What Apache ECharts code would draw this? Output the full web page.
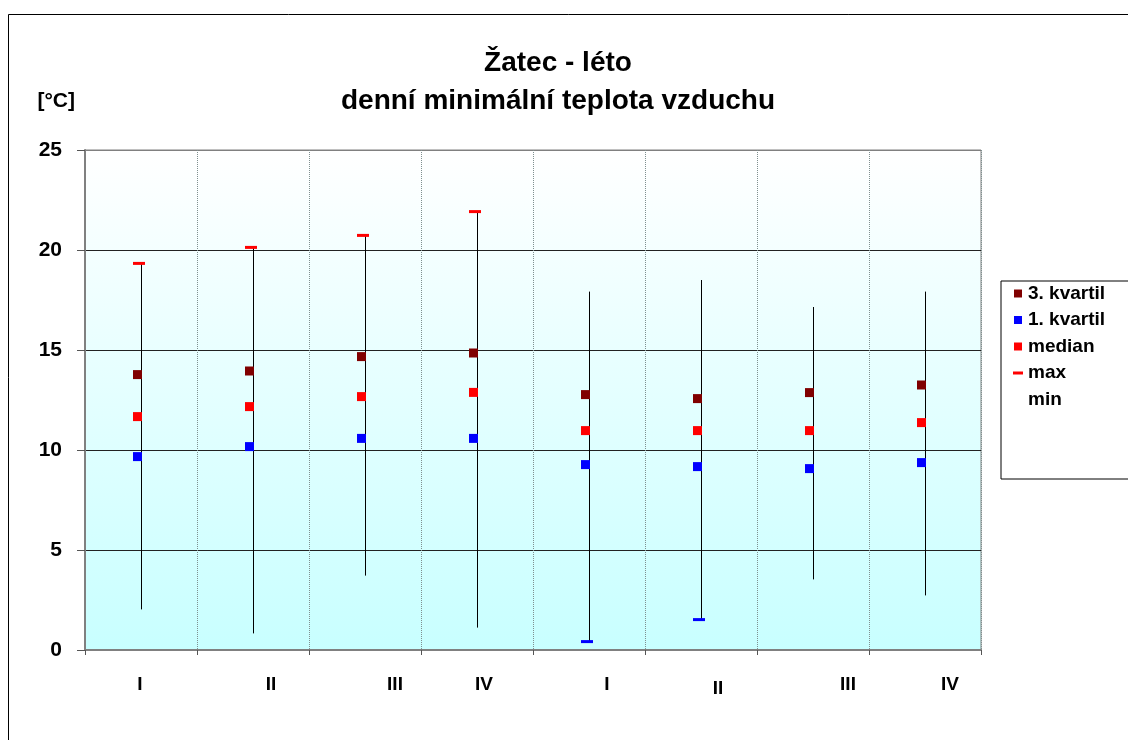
<!DOCTYPE html>
<html>
<head>
<meta charset="utf-8">
<title>Žatec - léto</title>
<script src="https://cdn.jsdelivr.net/npm/echarts@6/dist/echarts.min.js"></script>
<style>
  html, body { margin: 0; padding: 0; background: #ffffff; }
  #chart { width: 1128px; height: 740px; }
</style>
</head>
<body>
<div id="chart"></div>
<script>
// Seasonal quarters (two summers), daily minimum air temperature statistics [°C]
const categories = ['I', 'II', 'III', 'IV', 'I', 'II', 'III', 'IV'];
const q3Values = [13.77, 13.95, 14.67, 14.85, 12.77, 12.57, 12.87, 13.25];
const q1Values = [9.67, 10.17, 10.58, 10.58, 9.27, 9.17, 9.07, 9.37];
const medianValues = [11.67, 12.17, 12.67, 12.88, 10.97, 10.97, 10.97, 11.37];
const maxValues = [19.33, 20.13, 20.73, 21.92, 17.92, 18.5, 17.15, 17.92];
const minValues = [2.03, 0.83, 3.72, 1.12, 0.42, 1.52, 3.53, 2.73];
const yTicks = [0, 5, 10, 15, 20, 25];

// which points carry a visible dash marker
const maxDashShown = [true, true, true, true, false, false, false, false];
const minDashShown = [false, false, false, false, true, true, false, false];

// horizontal / vertical nudges of the category labels (px)
const labelShift = [-1, 18, 30, 7, 18, 17, 35, 25];
const labelDrop = [0, 0, 0, 0, 0, 4, 0, 0];

const FONT = 'Liberation Sans, Arial, sans-serif';

const rich = {};
labelShift.forEach((s, i) => {
  rich['s' + i] = {
    fontFamily: FONT, fontWeight: 'bold', fontSize: 19, color: '#000',
    padding: [labelDrop[i], s < 0 ? -2 * s : 0, 0, s > 0 ? 2 * s : 0]
  };
});

const chart = echarts.init(document.getElementById('chart'), null, { renderer: 'canvas' });

const squareIcon = 'path://M1,1h8v8h-8zM0,0M10,10';
const dashIcon = 'path://M0,0M10,10M0,3.5h10v3h-10z';

const option = {
  animation: false,
  backgroundColor: '#ffffff',
  title: {
    text: 'Žatec - léto\ndenní minimální teplota vzduchu',
    left: 553,
    top: 39,
    textAlign: 'center',
    textStyle: {
      fontFamily: FONT, fontWeight: 'bold', fontSize: 28, color: '#000', lineHeight: 38
    }
  },
  legend: {
    orient: 'vertical',
    left: 1001,
    top: 281,
    padding: [3, 40, 70, 12],
    itemGap: 7.5,
    itemWidth: 10,
    itemHeight: 10,
    borderColor: '#000',
    borderWidth: 1,
    backgroundColor: '#ffffff',
    textStyle: { fontFamily: FONT, fontWeight: 'bold', fontSize: 19, color: '#000', lineHeight: 19 },
    data: [
      { name: '3. kvartil', icon: squareIcon },
      { name: '1. kvartil', icon: squareIcon },
      { name: 'median', icon: squareIcon },
      { name: 'max', icon: dashIcon },
      { name: 'min', icon: 'none' }
    ]
  },
  grid: {
    left: 85,
    right: 147,
    top: 150,
    bottom: 90,
    show: true,
    borderColor: '#808080',
    borderWidth: 1,
    backgroundColor: new echarts.graphic.LinearGradient(0, 0, 0, 1, [
      { offset: 0, color: '#ffffff' },
      { offset: 1, color: '#c8ffff' }
    ])
  },
  xAxis: {
    type: 'category',
    data: categories,
    boundaryGap: true,
    axisLine: { lineStyle: { color: '#808080', width: 2 } },
    axisTick: { show: true, length: 5, lineStyle: { color: '#555555' } },
    axisLabel: {
      margin: 25,
      formatter: (value, index) => '{s' + index + '|' + value + '}',
      rich: rich
    },
    splitLine: { show: true, lineStyle: { color: '#7f8f8f', type: 'dotted', width: 1 } }
  },
  yAxis: {
    type: 'value',
    min: yTicks[0],
    max: yTicks[yTicks.length - 1],
    interval: 5,
    name: '[°C]',
    nameLocation: 'end',
    nameGap: 49,
    nameTextStyle: {
      fontFamily: FONT, fontWeight: 'bold', fontSize: 21, color: '#000',
      align: 'right', verticalAlign: 'middle', padding: [0, 10, 0, 0]
    },
    axisLine: { show: true, lineStyle: { color: '#808080', width: 2 } },
    axisTick: { show: true, length: 8, lineStyle: { color: '#555555' } },
    axisLabel: {
      margin: 23,
      fontFamily: FONT, fontWeight: 'bold', fontSize: 21, color: '#000'
    },
    splitLine: {
      show: true,
      lineStyle: { color: ['#808080', '#222222', '#222222', '#222222', '#222222', '#808080'], width: 1 }
    }
  },
  series: [
    {
      name: 'range',
      type: 'custom',
      z: 2,
      data: categories.map((c, i) => [i, minValues[i], maxValues[i]]),
      encode: { x: 0, y: [1, 2] },
      renderItem: function (params, api) {
        const lo = api.coord([api.value(0), api.value(1)]);
        const hi = api.coord([api.value(0), api.value(2)]);
        const x = Math.round(lo[0]) + 0.5;
        return {
          type: 'line',
          shape: { x1: x, y1: lo[1], x2: x, y2: hi[1] },
          style: { stroke: '#000000', lineWidth: 1 }
        };
      }
    },
    {
      name: '3. kvartil',
      type: 'scatter',
      z: 3,
      symbol: 'rect',
      symbolSize: 9,
      symbolOffset: [-3.5, 0],
      itemStyle: { color: '#800000', opacity: 1 },
      data: q3Values
    },
    {
      name: '1. kvartil',
      type: 'scatter',
      z: 3,
      symbol: 'rect',
      symbolSize: 9,
      symbolOffset: [-3.5, 0],
      itemStyle: { color: '#0000ff', opacity: 1 },
      data: q1Values
    },
    {
      name: 'median',
      type: 'scatter',
      z: 3,
      symbol: 'rect',
      symbolSize: 9,
      symbolOffset: [-3.5, 0],
      itemStyle: { color: '#ff0000', opacity: 1 },
      data: medianValues
    },
    {
      name: 'max',
      type: 'scatter',
      z: 3,
      symbol: 'rect',
      symbolSize: [12, 3],
      symbolOffset: [-2, 0],
      itemStyle: { color: '#ff0000', opacity: 1 },
      data: maxValues.map((v, i) => maxDashShown[i] ? v : { value: v, symbol: 'none' })
    },
    {
      name: 'min',
      type: 'scatter',
      z: 3,
      symbol: 'rect',
      symbolSize: [12, 3],
      symbolOffset: [-2, 0],
      itemStyle: { color: '#0000ff', opacity: 1 },
      data: minValues.map((v, i) => minDashShown[i] ? v : { value: v, symbol: 'none' })
    }
  ],
  graphic: [
    {
      type: 'rect',
      silent: true,
      z: -10,
      shape: { x: 8.5, y: 14.5, width: 1300, height: 900 },
      style: { fill: 'none', stroke: '#000000', lineWidth: 1 }
    }
  ]
};

chart.setOption(option);
</script>
</body>
</html>
